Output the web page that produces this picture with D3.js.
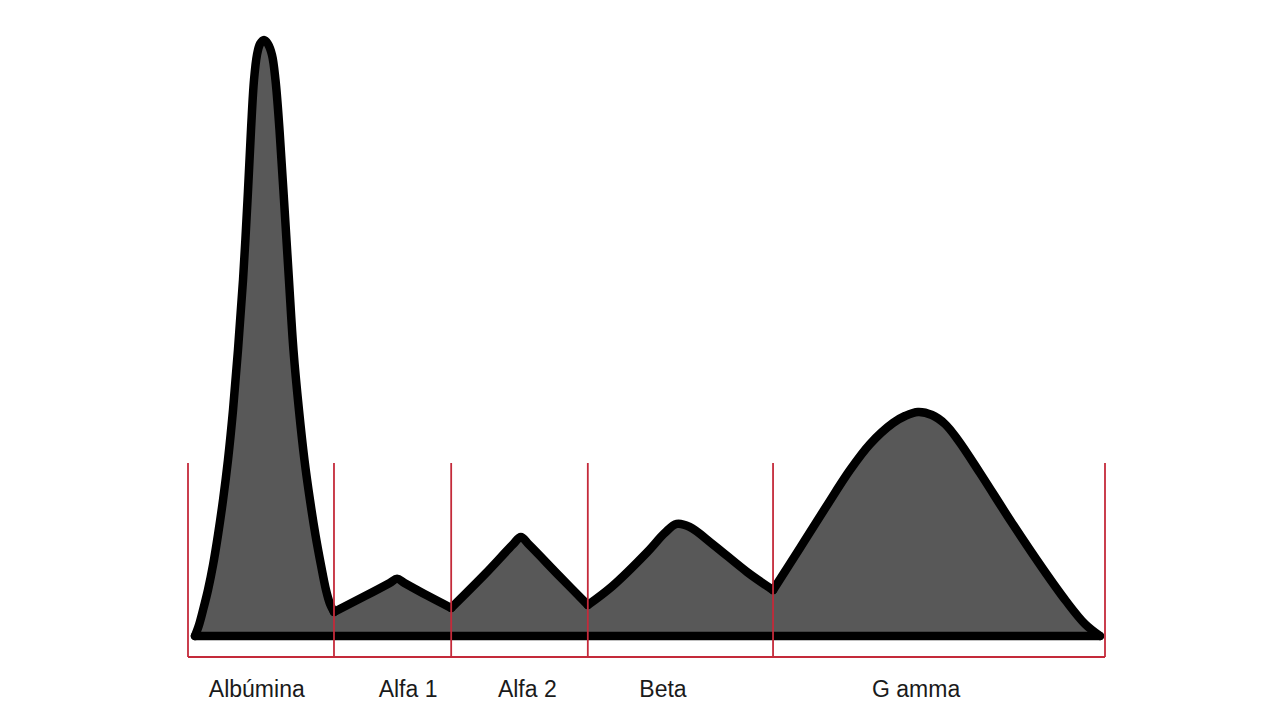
<!DOCTYPE html>
<html>
<head>
<meta charset="utf-8">
<script src="https://cdn.jsdelivr.net/npm/d3@7"></script>
<style>
  html, body { margin: 0; padding: 0; background: #ffffff; }
  svg { display: block; }
</style>
</head>
<body>
<svg id="chart" width="1280" height="720"></svg>
<script>
// ---- Data ----
// Electrophoretic mobility (relative units, 0..100) and intensity (relative, albumin peak = 100)
const mobility = [
  0.76, 1.20, 1.64, 2.18, 2.73, 3.27, 3.82, 4.36, 4.91, 5.45, 6.00, 6.49, 6.87, 7.20, 7.52, 7.85, 8.29,
  8.72, 9.16, 9.54, 9.98, 10.47, 11.01, 11.50, 12.10, 12.70, 13.30, 13.90, 14.50, 15.05, 15.49, 15.92,
  19.3, 22.0, 22.8, 23.6, 26.2, 28.7,
  32.4, 35.4, 36.3, 37.2, 40.6, 43.6,
  46.3, 50.1, 52.0, 53.3, 54.7, 57.3, 61.0, 63.8,
  66.74, 69.57, 72.19, 74.37, 76.88, 78.19, 79.61, 81.13, 82.55, 83.97, 86.37, 89.86, 93.24, 95.75, 97.82, 99.45
];
const intensity = [
  0, 1.85, 4.36, 7.72, 11.91, 16.95, 22.82, 29.53, 37.92, 47.99, 59.73, 73.15, 84.90, 93.29, 97.48, 99.33, 100,
  99.33, 97.48, 93.29, 84.90, 73.15, 59.73, 47.99, 37.92, 29.53, 22.82, 16.95, 11.91, 7.72, 5.37, 4.03,
  6.7, 8.9, 9.6, 8.9, 6.7, 4.7,
  10.4, 15.3, 16.6, 15.3, 9.9, 5.2,
  8.4, 14.1, 17.3, 18.8, 18.3, 15.3, 10.7, 7.7,
  14.77, 21.64, 27.85, 32.21, 35.74, 36.91, 37.58, 37.08, 35.57, 32.89, 27.35, 18.96, 11.24, 5.87, 2.01, 0
];
// Fraction boundaries (mobility units)
const boundaries = [0, 15.92, 28.7, 43.6, 63.8, 100];
// Fraction names and label positions (mobility units)
const fractions = ["Albúmina", "Alfa 1", "Alfa 2", "Beta", "G amma"];
const labelPos = [7.5, 24.0, 37.0, 51.8, 79.4];

// ---- Layout ----
const svg = d3.select("#chart");
const x = d3.scaleLinear().domain([0, 100]).range([188, 1105]);
const y = d3.scaleLinear().domain([0, 100]).range([636, 40]);
const bracketTop = 463, bracketBottom = 657, labelY = 697;
const eps = 1e-9;

const pts = mobility.map((m, i) => ({ m, v: intensity[i] }));
const segments = d3.range(boundaries.length - 1).map(i =>
  pts.filter(p => p.m >= boundaries[i] - eps && p.m <= boundaries[i + 1] + eps));

const curve = d3.curveCatmullRom.alpha(0.5);
const area = d3.area()
  .x(d => x(d.m))
  .y0(y(0))
  .y1(d => y(d.v))
  .curve(curve);
const line = d3.line()
  .x(d => x(d.m))
  .y(d => y(d.v))
  .curve(curve);

// Fill
svg.selectAll("path.fill")
  .data(segments)
  .enter().append("path")
  .attr("class", "fill")
  .attr("d", area)
  .attr("fill", "#585858")
  .attr("stroke", "#585858")
  .attr("stroke-width", 0.6);

// Outline
const sw = 8.5;
svg.selectAll("path.outline")
  .data(segments)
  .enter().append("path")
  .attr("class", "outline")
  .attr("d", line)
  .attr("fill", "none")
  .attr("stroke", "#000")
  .attr("stroke-width", sw)
  .attr("stroke-linejoin", "round")
  .attr("stroke-linecap", "round");

svg.append("line")
  .attr("x1", x(mobility[0])).attr("x2", x(mobility[mobility.length - 1]))
  .attr("y1", y(0)).attr("y2", y(0))
  .attr("stroke", "#000")
  .attr("stroke-width", sw)
  .attr("stroke-linecap", "round");

// Red brackets
const red = "#c42a3a";
svg.append("line")
  .attr("x1", x(boundaries[0])).attr("x2", x(boundaries[boundaries.length - 1]))
  .attr("y1", bracketBottom).attr("y2", bracketBottom)
  .attr("stroke", red).attr("stroke-width", 2);

svg.selectAll("line.div")
  .data(boundaries)
  .enter().append("line")
  .attr("class", "div")
  .attr("x1", d => x(d)).attr("x2", d => x(d))
  .attr("y1", bracketTop).attr("y2", bracketBottom)
  .attr("stroke", red).attr("stroke-width", 1.8);

// Labels
svg.selectAll("text.lab")
  .data(fractions)
  .enter().append("text")
  .attr("class", "lab")
  .attr("x", (d, i) => x(labelPos[i]))
  .attr("y", labelY)
  .attr("text-anchor", "middle")
  .attr("font-family", "'Liberation Sans', Arial, sans-serif")
  .attr("font-size", 23)
  .attr("fill", "#1a1a1a")
  .text(d => d);
</script>
</body>
</html>
